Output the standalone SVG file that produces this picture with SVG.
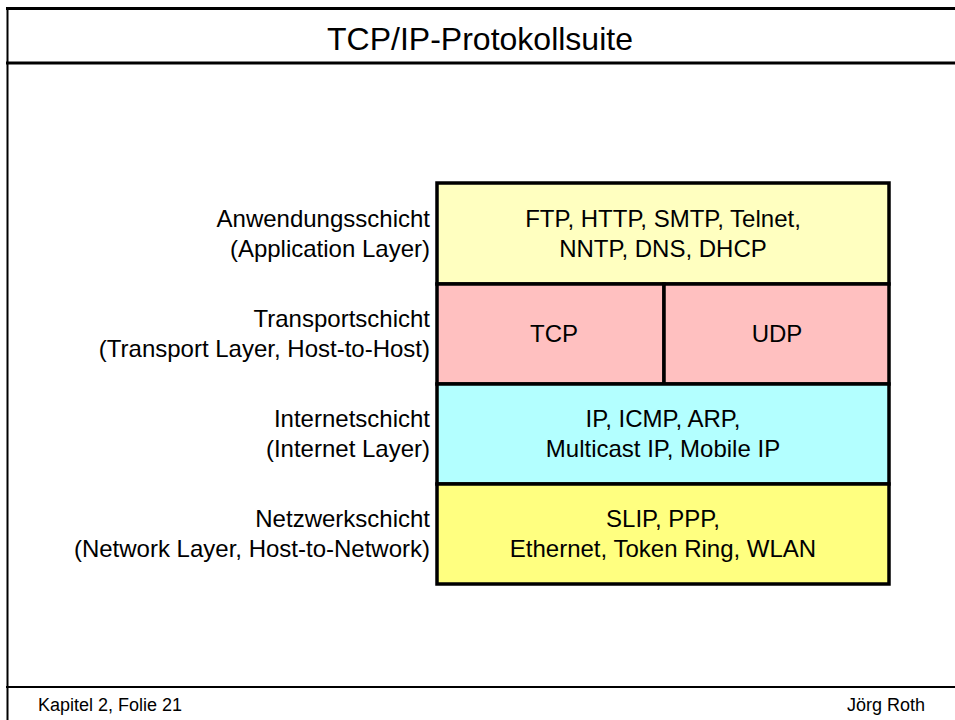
<svg xmlns="http://www.w3.org/2000/svg" width="955" height="720" viewBox="0 0 955 720">
<style>
text{font-family:"Liberation Sans",Arial,sans-serif;fill:#000}
.frame{stroke:#000;fill:none}
.layer{stroke:#000;stroke-width:3.5}
.lbl{font-size:24px;text-anchor:end}
.in{font-size:24px;text-anchor:middle}
</style>
<rect width="955" height="720" fill="#fff"/>
<g id="frame">
<line class="frame" x1="6" y1="8.5" x2="955" y2="8.5" stroke-width="3"/>
<line class="frame" x1="7.5" y1="7" x2="7.5" y2="720" stroke-width="2"/>
<line class="frame" x1="6" y1="63" x2="955" y2="63" stroke-width="3"/>
<line class="frame" x1="6" y1="687" x2="955" y2="687" stroke-width="2"/>
</g>
<text x="480" y="50" style="font-size:32px" text-anchor="middle">TCP/IP-Protokollsuite</text>
<g id="application">
<rect class="layer" x="437" y="183" width="452" height="101" fill="#ffffc0"/>
<text class="in" x="663" y="227">FTP, HTTP, SMTP, Telnet,</text>
<text class="in" x="663" y="257">NNTP, DNS, DHCP</text>
<text class="lbl" x="430" y="227">Anwendungsschicht</text>
<text class="lbl" x="430" y="257">(Application Layer)</text>
</g>
<g id="transport">
<rect class="layer" x="437" y="284" width="227" height="100" fill="#ffc0c0"/>
<rect class="layer" x="664" y="284" width="225" height="100" fill="#ffc0c0"/>
<text class="in" x="554" y="342">TCP</text>
<text class="in" x="777" y="342">UDP</text>
<text class="lbl" x="430" y="327">Transportschicht</text>
<text class="lbl" x="430" y="357">(Transport Layer, Host-to-Host)</text>
</g>
<g id="internet">
<rect class="layer" x="437" y="384" width="452" height="100" fill="#b3ffff"/>
<text class="in" x="663" y="427">IP, ICMP, ARP,</text>
<text class="in" x="663" y="457">Multicast IP, Mobile IP</text>
<text class="lbl" x="430" y="427">Internetschicht</text>
<text class="lbl" x="430" y="457">(Internet Layer)</text>
</g>
<g id="network">
<rect class="layer" x="437" y="484" width="452" height="100" fill="#ffff80"/>
<text class="in" x="663" y="527">SLIP, PPP,</text>
<text class="in" x="663" y="557">Ethernet, Token Ring, WLAN</text>
<text class="lbl" x="430" y="527">Netzwerkschicht</text>
<text class="lbl" x="430" y="557">(Network Layer, Host-to-Network)</text>
</g>
<g id="connectors"/>
<text x="38" y="711" style="font-size:18px">Kapitel 2, Folie 21</text>
<text x="925" y="711" style="font-size:18px" text-anchor="end">Jörg Roth</text>
</svg>
